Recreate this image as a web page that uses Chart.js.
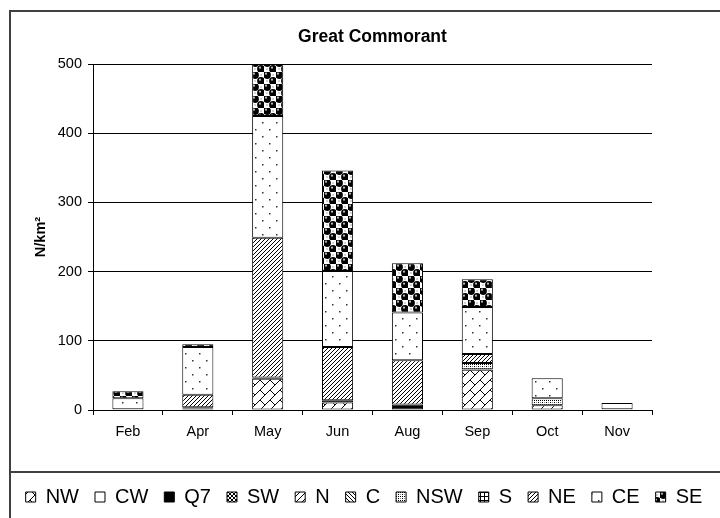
<!DOCTYPE html>
<html>
<head>
<meta charset="utf-8">
<script src="https://cdn.jsdelivr.net/npm/chart.js@4/dist/chart.umd.min.js"></script>
<style>
  body { margin: 0; background: #fff; }
  #wrap { width: 720px; height: 518px; position: relative; }
</style>
</head>
<body>
<div id="wrap"><canvas id="chart"></canvas></div>
<script>
// Dados (N/km² por mês e por área)
const months = ['Feb', 'Apr', 'May', 'Jun', 'Aug', 'Sep', 'Oct', 'Nov'];
const seriesNames = ['NW', 'CW', 'Q7', 'SW', 'N', 'C', 'NSW', 'S', 'NE', 'CE', 'SE'];
const nwValues  = [0, 2, 45, 11, 0, 58, 7, 0];
const cwValues  = [0, 0, 0, 0, 0, 0, 0, 0];
const q7Values  = [1, 2, 0, 3, 8, 1, 0, 1];
const swValues  = [0, 0, 2, 0, 0, 0, 0, 0];
const nValues   = [0, 0, 0, 0, 0, 0, 0, 0];
const cValues   = [0, 0, 0, 0, 0, 0, 0, 0];
const nswValues = [0, 0, 0, 0, 0, 9, 10, 0];
const sValues   = [0, 0, 0, 0, 0, 0, 0, 0];
const neValues  = [0, 18, 202, 77, 64, 13, 0, 0];
const ceValues  = [16, 69, 176, 110, 69, 68, 29, 9];
const seValues  = [10, 4, 75, 145, 71, 40, 0, 0];
const yTicks = [0, 100, 200, 300, 400, 500];

const FONT = 'Arial, "Liberation Sans", sans-serif';

// Cria um padrão de preenchimento (estilo Excel preto e branco)
function makePattern(size, draw) {
  const c = document.createElement('canvas');
  c.width = size;
  c.height = size;
  const g = c.getContext('2d');
  g.fillStyle = '#fff';
  g.fillRect(0, 0, size, size);
  g.strokeStyle = '#000';
  g.fillStyle = '#000';
  g.lineWidth = 1;
  draw(g, size);
  return g.createPattern(c, 'repeat');
}

function line(g, x1, y1, x2, y2) {
  g.beginPath();
  g.moveTo(x1, y1);
  g.lineTo(x2, y2);
  g.stroke();
}

const patterns = {
  // tijolo diagonal
  NW: makePattern(20, (g, s) => {
    for (let k = -1; k <= 2; k++) line(g, 0, k * 10, k * 10, 0);
    line(g, 0, 20, 20, 0);
    line(g, 10, 20, 20, 10);
    line(g, 0, 0, 5, 5);
    line(g, 10, 10, 15, 15);
    line(g, 10, 0, 15, 5);
    line(g, 0, 10, 5, 15);
  }),
  CW: '#ffffff',
  Q7: '#000000',
  SW: makePattern(4, (g, s) => {
    line(g, 0, 0, 4, 4);
    line(g, 0, 4, 4, 0);
  }),
  N: makePattern(6, (g, s) => {
    line(g, -1, 7, 7, -1);
  }),
  C: makePattern(4, (g, s) => {
    line(g, -1, -1, 5, 5);
    line(g, -1, 3, 1, 5);
    line(g, 3, -1, 5, 1);
  }),
  NSW: makePattern(4, (g, s) => {
    g.fillRect(0, 0, 1, 1);
    g.fillRect(2, 2, 1, 1);
    g.fillRect(2, 0, 1, 1);
    g.fillStyle = '#888';
    g.fillRect(0, 2, 1, 1);
  }),
  S: makePattern(4, (g, s) => {
    g.fillRect(0, 0, 4, 1);
    g.fillRect(0, 0, 1, 4);
  }),
  NE: makePattern(4, (g, s) => {
    line(g, -1, 5, 5, -1);
    line(g, -1, 1, 1, -1);
    line(g, 3, 5, 5, 3);
  }),
  CE: makePattern(14, (g, s) => {
    g.fillStyle = '#333';
    g.fillRect(3, 3, 1.5, 1.5);
    g.fillRect(10, 10, 1.5, 1.5);
  }),
  // esferas pretas em xadrez sobre fundo branco
  SE: makePattern(12, (g, s) => {
    [[3, 3], [9, 9]].forEach(([x, y]) => {
      g.fillStyle = '#000';
      g.beginPath();
      g.arc(x, y, 3.9, 0, Math.PI * 2);
      g.fill();
      g.fillStyle = '#bbb';
      g.beginPath();
      g.arc(x - 1, y - 1.3, 1.1, 0, Math.PI * 2);
      g.fill();
    });
    g.fillStyle = '#555';
    g.fillRect(8.5, 2.5, 1, 1);
    g.fillRect(2.5, 8.5, 1, 1);
  })
};

const allValues = [nwValues, cwValues, q7Values, swValues, nValues, cValues,
  nswValues, sValues, neValues, ceValues, seValues];

const datasets = seriesNames.map((name, i) => ({
  label: name,
  data: allValues[i].map(v => (v === 0 ? null : v)),
  backgroundColor: patterns[name],
  borderColor: '#000',
  borderWidth: 1,
  borderSkipped: false,
  categoryPercentage: 1,
  barPercentage: 0.445
}));

// Moldura do gráfico e linha que separa a legenda
const framePlugin = {
  id: 'frame',
  afterLayout(chart) {
    chart.titleBlock.left = chart.chartArea.left;
    chart.titleBlock.right = chart.chartArea.right;
  },
  afterDraw(chart) {
    const ctx = chart.ctx;
    ctx.save();
    ctx.strokeStyle = '#404040';
    ctx.lineWidth = 2;
    ctx.beginPath();
    ctx.moveTo(10, 518);
    ctx.lineTo(10, 11);
    ctx.lineTo(720, 11);
    ctx.moveTo(10, 472);
    ctx.lineTo(720, 472);
    ctx.stroke();
    ctx.restore();
  }
};

new Chart(document.getElementById('chart'), {
  type: 'bar',
  data: { labels: months, datasets: datasets },
  options: {
    responsive: true,
    maintainAspectRatio: false,
    animation: false,
    layout: { padding: { left: 8, right: 0, top: 0, bottom: 1 } },
    plugins: {
      title: {
        display: true,
        text: 'Great Commorant',
        color: '#000',
        font: { family: FONT, size: 17.5, weight: 'bold' },
        padding: { top: 27, bottom: 16 }
      },
      legend: {
        position: 'bottom',
        labels: {
          color: '#000',
          font: { family: FONT, size: 20 },
          boxWidth: 10,
          boxHeight: 10,
          padding: 16
        }
      },
      tooltip: { enabled: false }
    },
    scales: {
      x: {
        stacked: true,
        afterFit(scale) { scale.height = 61; },
        grid: { drawOnChartArea: false, drawTicks: true, tickLength: 5, color: '#000', offset: true },
        border: { color: '#000', width: 1 },
        ticks: { color: '#000', font: { family: FONT, size: 14.5 }, padding: 8 }
      },
      y: {
        stacked: true,
        min: 0,
        max: 500,
        afterFit(scale) { scale.width = 85; },
        afterBuildTicks(scale) { scale.ticks = yTicks.map(v => ({ value: v })); },
        grid: { color: '#000', tickLength: 5 },
        border: { color: '#000', width: 1 },
        ticks: { color: '#000', font: { family: FONT, size: 14.5 }, padding: 6 },
        title: {
          display: true,
          text: 'N/km²',
          color: '#000',
          font: { family: FONT, size: 14.5, weight: 'bold' },
          padding: { top: 24, bottom: 0 }
        }
      },
      y2: {
        position: 'right',
        display: true,
        min: 0,
        max: 1,
        afterFit(scale) { scale.width = 68; },
        grid: { display: false },
        border: { display: false },
        ticks: { display: false }
      }
    }
  },
  plugins: [framePlugin]
});
</script>
</body>
</html>
